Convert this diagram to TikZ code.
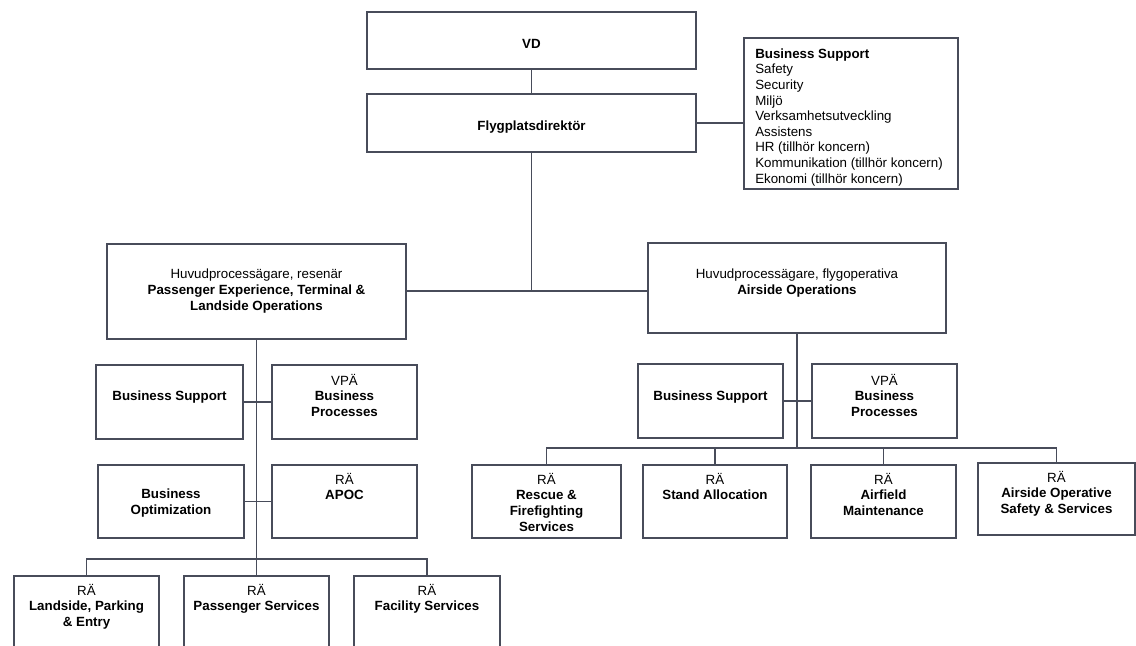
\documentclass[tikz,border=0pt]{standalone}
\usepackage{fontspec}
\setmainfont{Liberation Sans}
\usetikzlibrary{fit}
\definecolor{linec}{RGB}{72,76,90}
\tikzset{
  bx/.style={draw=linec, line width=0.95pt, inner sep=0pt, fill=none},
  conn/.style={draw=linec, line width=0.95pt},
  txt/.style={inner sep=0pt, align=center, anchor=north, yshift=-2.2pt, font=\fontsize{10}{11.7}\selectfont, execute at begin node=\strut},
  txtl/.style={txt, align=left, anchor=north west}
}
\begin{document}
\begin{tikzpicture}[x=0.75pt,y=-0.75pt]
\useasboundingbox (0,0) rectangle (1136,646);
\clip (0,0) rectangle (1136,646);
\fill[white] (0,0) rectangle (1136,646);
% top
\node[bx, fit={(367,12) (696,69)}] (vd) {};
\node[txt] (vdt) at (531.5,34) {\textbf{VD}};
\node[bx, fit={(367,94) (696,152)}] (fd) {};
\node[txt] (fdt) at (531.5,116) {\textbf{Flygplatsdirektör}};
\node[bx, fit={(744,38) (958,189)}] (bsup) {};
\node[txtl] (bsupt) at (755,45.5) {\textbf{Business Support}\\Safety\\Security\\Miljö\\Verksamhetsutveckling\\Assistens\\HR (tillhör koncern)\\Kommunikation (tillhör koncern)\\Ekonomi (tillhör koncern)};
% main boxes
\node[bx, fit={(107,244) (406,339)}] (pax) {};
\node[txt] (paxt) at (256.5,266) {Huvudprocessägare, resenär\\\textbf{Passenger Experience, Terminal \&}\\\textbf{Landside Operations}};
\node[bx, fit={(648,243) (946,333)}] (air) {};
\node[txt] (airt) at (797,266) {Huvudprocessägare, flygoperativa\\\textbf{Airside Operations}};
% left column
\node[bx, fit={(96,365) (243,439)}] (lbs) {};
\node[txt] (lbst) at (169.5,386) {\textbf{Business Support}};
\node[bx, fit={(272,365) (417,439)}] (lbp) {};
\node[txt] (lbpt) at (344.5,371) {VPÄ\\\textbf{Business}\\\textbf{Processes}};
\node[bx, fit={(98,465) (244,538)}] (lbo) {};
\node[txt] (lbot) at (171,486) {\textbf{Business}\\\textbf{Optimization}};
\node[bx, fit={(272,465) (417,538)}] (apoc) {};
\node[txt] (apoct) at (344.5,470) {RÄ\\\textbf{APOC}};
\node[bx, fit={(14,576) (159,670)}] (lpe) {};
\node[txt] (lpet) at (86.5,581) {RÄ\\\textbf{Landside, Parking}\\\textbf{\& Entry}};
\node[bx, fit={(184,576) (329,670)}] (psv) {};
\node[txt] (psvt) at (256.5,581) {RÄ\\\textbf{Passenger Services}};
\node[bx, fit={(354,576) (500,670)}] (fsv) {};
\node[txt] (fsvt) at (427,581) {RÄ\\\textbf{Facility Services}};
% right column
\node[bx, fit={(638,364) (783,438)}] (rbs) {};
\node[txt] (rbst) at (710.5,386) {\textbf{Business Support}};
\node[bx, fit={(812,364) (957,438)}] (rbp) {};
\node[txt] (rbpt) at (884.5,371) {VPÄ\\\textbf{Business}\\\textbf{Processes}};
\node[bx, fit={(472,465) (621,538)}] (rff) {};
\node[txt] (rfft) at (546.5,470) {RÄ\\\textbf{Rescue \&}\\\textbf{Firefighting}\\\textbf{Services}};
\node[bx, fit={(643,465) (787,538)}] (sta) {};
\node[txt] (stat) at (715,470) {RÄ\\\textbf{Stand Allocation}};
\node[bx, fit={(811,465) (956,538)}] (afm) {};
\node[txt] (afmt) at (883.5,470) {RÄ\\\textbf{Airfield}\\\textbf{Maintenance}};
\node[bx, fit={(978,463) (1135,535)}] (aos) {};
\node[txt] (aost) at (1056.5,468) {RÄ\\\textbf{Airside Operative}\\\textbf{Safety \& Services}};
% connectors
\coordinate (mbus) at (531.5,291);
\coordinate (lbus) at (256.5,559);
\coordinate (rbus) at (797,448);
\draw[conn] (vd.south) -- (fd.north);
\draw[conn] (fd.east) -- (fd.east -| bsup.west);
\draw[conn] (fd.south) -- (mbus);
\draw[conn] (pax.east |- mbus) -- (air.west |- mbus);
\draw[conn] (pax.south) -- (lbus);
\draw[conn] (lbs.east) -- (lbp.west);
\draw[conn] (lbo.east) -- (lbo.east -| apoc.west);
\draw[conn] (lpe.north) |- (lbus) -| (fsv.north);
\draw[conn] (lbus) -- (psv.north);
\draw[conn] (air.south) -- (rbus);
\draw[conn] (rbs.east) -- (rbp.west);
\draw[conn] (rff.north) |- (rbus) -| (aos.north);
\draw[conn] (sta.north) -- (sta.north |- rbus);
\draw[conn] (afm.north) -- (afm.north |- rbus);
\end{tikzpicture}
\end{document}
